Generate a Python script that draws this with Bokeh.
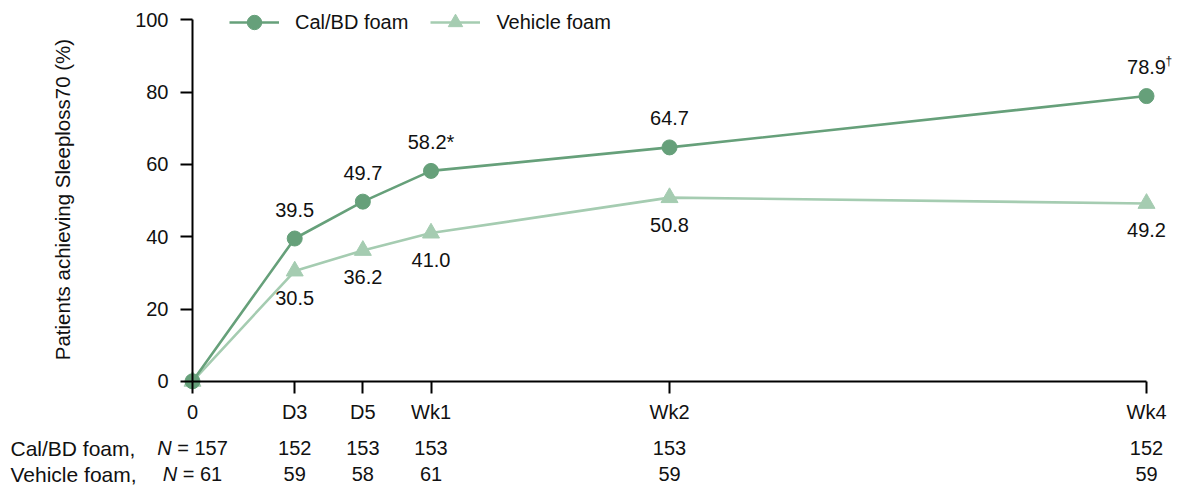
import math
from bokeh.plotting import figure
from bokeh.models import Range1d, LinearAxis, FixedTicker, Legend, LegendItem, ColumnDataSource
from bokeh.core.properties import value
from bokeh.embed import file_html
from bokeh.resources import INLINE

# ---------------- data ----------------
days = [0, 3, 5, 7, 14, 28]
tick_labels = ["0", "D3", "D5", "Wk1", "Wk2", "Wk4"]
cal_values = [0, 39.5, 49.7, 58.2, 64.7, 78.9]
veh_values = [0, 30.5, 36.2, 41.0, 50.8, 49.2]
cal_labels = ["", "39.5", "49.7", "58.2*", "64.7", "78.9"]
cal_footnotes = ["", "", "", "", "", "†"]
veh_labels = ["", "30.5", "36.2", "41.0", "50.8", "49.2"]
cal_n = [157, 152, 153, 153, 153, 152]
veh_n = [61, 59, 58, 61, 59, 59]
series_names = ["Cal/BD foam", "Vehicle foam"]
row_names = ["Cal/BD foam,", "Vehicle foam,"]
y_ticks = [0, 20, 40, 60, 80, 100]
y_label = "Patients achieving Sleeploss70 (%)"

# ---------------- style ----------------
W, H = 1177, 485
FONT = "Liberation Sans"
FS = 20
FSS = f"{FS}px"
CAL = "#66a07a"
VEH = "#a5ccb1"
TXT = "#111111"

x0_px, x1_px = 192, 1146
y0_px, y100_px = 380.8, 19.3
sx = (x1_px - x0_px) / 28.0
sy = (y0_px - y100_px) / 100.0

p = figure(width=W, height=H, output_backend="svg", toolbar_location=None,
           x_axis_location=None, y_axis_location=None, min_border=0,
           x_range=Range1d(-x0_px / sx, 28 + (W - x1_px) / sx),
           y_range=Range1d(-(H - y0_px) / sy, 100 + y100_px / sy))
p.outline_line_color = None
p.background_fill_color = "white"
p.border_fill_color = "white"
p.grid.grid_line_color = None
p.grid.visible = False

# axes
xax = LinearAxis(fixed_location=0, bounds=(0, 28), ticker=FixedTicker(ticks=days),
                 major_label_overrides={d: t for d, t in zip(days, tick_labels)})
yax = LinearAxis(fixed_location=0, bounds=(0, 100), ticker=FixedTicker(ticks=y_ticks))
for ax in (xax, yax):
    ax.axis_line_width = 2
    ax.axis_line_color = "black"
    ax.major_tick_line_width = 2
    ax.major_tick_line_color = "black"
    ax.major_tick_out = 12
    ax.major_tick_in = 0
    ax.minor_tick_line_color = None
    ax.major_label_text_font = FONT
    ax.major_label_text_font_size = FSS
    ax.major_label_text_color = TXT
xax.major_label_standoff = 8
yax.major_label_standoff = 12
p.add_layout(xax, "below")
p.add_layout(yax, "left")

src = ColumnDataSource(dict(day=days, cal=cal_values, veh=veh_values,
                            cal_lab=cal_labels, veh_lab=veh_labels, cal_fn=cal_footnotes))

# series (vehicle underneath)
vl = p.line("day", "veh", source=src, line_color=VEH, line_width=2.6)
vm = p.scatter("day", "veh", source=src, marker="triangle", size=17,
               fill_color=VEH, line_color=VEH)
cl = p.line("day", "cal", source=src, line_color=CAL, line_width=2.6)
cm = p.scatter("day", "cal", source=src, marker="circle", size=15,
               fill_color=CAL, line_color=CAL)

# value labels
p.text("day", "cal", text="cal_lab", source=src, text_align="center", text_baseline="middle",
       y_offset=-29, text_font=value(FONT), text_font_size=FSS, text_color=TXT)
p.text("day", "veh", text="veh_lab", source=src, text_align="center", text_baseline="middle",
       y_offset=27, text_font=value(FONT), text_font_size=FSS, text_color=TXT)
fn_idx = [i for i, f in enumerate(cal_footnotes) if f]
fsrc = ColumnDataSource(dict(day=[days[i] for i in fn_idx], cal=[cal_values[i] for i in fn_idx],
                             fn=[cal_footnotes[i] for i in fn_idx]))
p.text("day", "cal", text="fn", source=fsrc, text_align="left", text_baseline="middle",
       x_offset=19, y_offset=-35, text_font=value(FONT), text_font_size="12px", text_color=TXT)

# y axis title
p.text(x=[0], y=[50], text=[y_label], angle=math.pi / 2, text_align="center",
       text_baseline="middle", x_offset=-130, y_offset=-1, text_font=value(FONT),
       text_font_size="20.5px", text_color=TXT)

# N table
row_offsets = [67, 93]
for r, (name, ns) in enumerate(zip(row_names, (cal_n, veh_n))):
    yo = row_offsets[r]
    p.text(x=[0], y=[0], text=[name], text_align="left", text_baseline="middle",
           x_offset=-(x0_px - 10), y_offset=yo, text_font=value(FONT),
           text_font_size="21px", text_color=TXT)
    p.text(x=days[1:], y=[0] * (len(days) - 1), text=[str(n) for n in ns[1:]],
           text_align="center", text_baseline="middle", y_offset=yo,
           text_font=value(FONT), text_font_size=FSS, text_color=TXT)
    rest = f"= {ns[0]}"
    n_w = 0.722 * FS
    sp_w = 0.278 * FS
    rest_w = (0.584 + 0.278) * FS + 0.556 * FS * len(str(ns[0]))
    total = n_w + sp_w + rest_w
    left = -total / 2
    p.text(x=[days[0]], y=[0], text=["N"], text_align="left", text_baseline="middle",
           x_offset=left, y_offset=yo, text_font=value(FONT), text_font_size=FSS,
           text_font_style="italic", text_color=TXT)
    p.text(x=[days[0]], y=[0], text=[rest], text_align="left", text_baseline="middle",
           x_offset=left + n_w + sp_w, y_offset=yo, text_font=value(FONT), text_font_size=FSS,
           text_color=TXT)

# legend
legend = Legend(items=[LegendItem(label=series_names[0], renderers=[cl, cm]),
                       LegendItem(label=series_names[1], renderers=[vl, vm])],
                orientation="horizontal", location=(229, 445), padding=0, margin=0,
                spacing=22, label_standoff=16, glyph_width=50, glyph_height=36,
                label_height=20, background_fill_alpha=0, border_line_alpha=0,
                label_text_font=FONT, label_text_font_size=FSS, label_text_color=TXT)
p.add_layout(legend)

open("out.html", "w").write(file_html(p, INLINE))
